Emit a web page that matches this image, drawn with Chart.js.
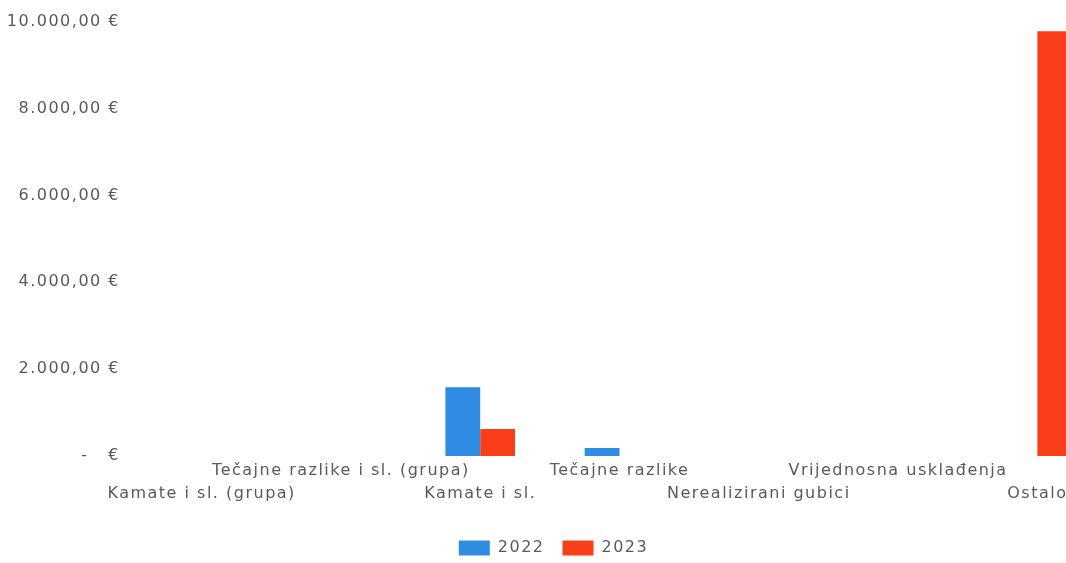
<!DOCTYPE html>
<html>
<head>
<meta charset="utf-8">
<script src="https://cdn.jsdelivr.net/npm/chart.js@4/dist/chart.umd.min.js"></script>
<style>
html,body{margin:0;padding:0;background:#fff;overflow:hidden;width:1066px;height:563px;}
#wrap{position:absolute;left:0;top:0;width:1115px;height:566px;}
</style>
</head>
<body>
<div id="wrap"><canvas id="c"></canvas></div>
<script>
const categories = ["Kamate i sl. (grupa)", "Tečajne razlike i sl. (grupa)", "Kamate i sl.", "Tečajne razlike", "Nerealizirani gubici", "Vrijednosna usklađenja", "Ostalo"];
const series2022 = [0, 0, 1580, 185, 0, 0, 0];
const series2023 = [0, 0, 620, 0, 0, 0, 9780];
const seriesNames = ["2022", "2023"];
const yTicks = [0, 2000, 4000, 6000, 8000, 10000];

function fmtEUR(v){
  if (v === 0) return "-   €";
  const s = v.toFixed(2).split(".");
  const int = s[0].replace(/\B(?=(\d{3})+(?!\d))/g, ".");
  return int + "," + s[1] + " €";
}

// staggered labels: even index on second row, odd on first row
const staggered = categories.map((c, i) => i % 2 === 0 ? ["", c] : [c, ""]);

const spacingPlugin = {
  id: "spacing",
  beforeUpdate(chart){ chart.ctx.letterSpacing = "1.5px"; },
  beforeDraw(chart){ chart.ctx.letterSpacing = "1.5px"; }
};

new Chart(document.getElementById("c"), {
  type: "bar",
  data: {
    labels: staggered,
    datasets: [
      {label: seriesNames[0], data: series2022, backgroundColor: "#2e8de3"},
      {label: seriesNames[1], data: series2023, backgroundColor: "#fb3e1a"}
    ]
  },
  plugins: [spacingPlugin],
  options: {
    responsive: true,
    maintainAspectRatio: false,
    animation: false,
    layout: {padding: {top: 12, right: 8, left: 0, bottom: 0}},
    datasets: {bar: {categoryPercentage: 0.5, barPercentage: 1.0}},
    plugins: {
      legend: {
        position: "bottom",
        labels: {boxWidth: 31, boxHeight: 15, color: "#5a5a5a", font: {family: "DejaVu Sans", size: 16}, padding: 18}
      },
      tooltip: {enabled: false}
    },
    scales: {
      x: {
        afterFit: (s) => { s.height = 66; },
        grid: {display: false, drawTicks: false},
        border: {display: false},
        ticks: {autoSkip: false, maxRotation: 0, minRotation: 0, color: "#5a5a5a", padding: 4,
                font: {family: "DejaVu Sans", size: 16, lineHeight: 1.4}}
      },
      y: {
        min: 0, max: 10000,
        afterBuildTicks: (s) => { s.ticks = yTicks.map(v => ({value: v})); },
        afterFit: (s) => { s.width = 132; },
        grid: {display: false, drawTicks: false},
        border: {display: false},
        ticks: {color: "#5a5a5a", padding: 12, font: {family: "DejaVu Sans", size: 16},
                callback: (v) => fmtEUR(v)}
      }
    }
  }
});
</script>
</body>
</html>
